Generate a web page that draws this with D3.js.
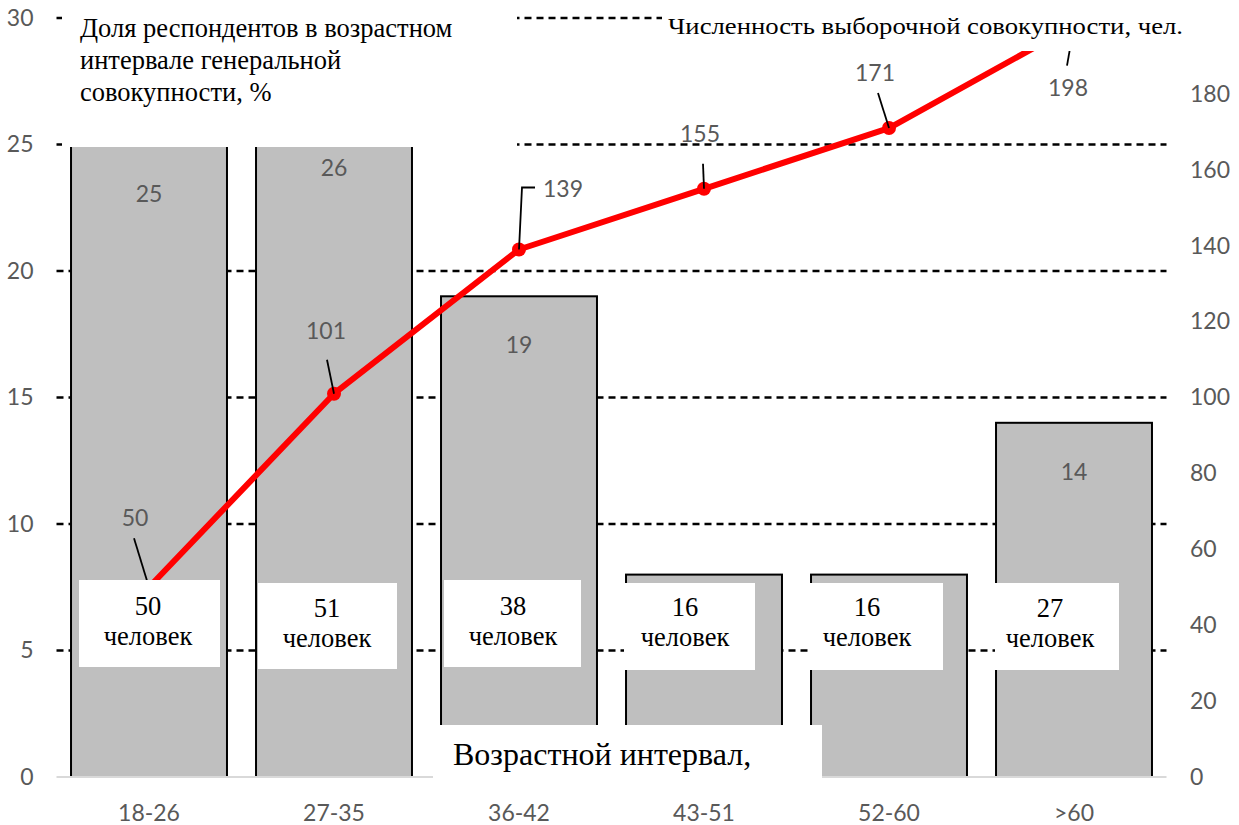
<!DOCTYPE html>
<html>
<head>
<meta charset="utf-8">
<script src="https://cdn.jsdelivr.net/npm/d3@7"></script>
<style>
  body { margin: 0; background: #fff; }
  svg { display: block; }
</style>
</head>
<body>
<svg id="chart" width="1239" height="825"></svg>
<script>
// Age groups and their values
const categories = ["18-26", "27-35", "36-42", "43-51", "52-60", ">60"];
const sharePct = [25, 26, 19, 8, 8, 14];            // share of the general population, %
const sampleCumulative = [50, 101, 139, 155, 171, 198]; // sample size, people (cumulative)
const groupCount = [50, 51, 38, 16, 16, 27];        // respondents in each group
const leftTicks = [0, 5, 10, 15, 20, 25, 30];
const rightTicks = [0, 20, 40, 60, 80, 100, 120, 140, 160, 180, 200];

const leftTitle = ["Доля респондентов в возрастном", "интервале генеральной", "совокупности, %"];
const rightTitle = "Численность выборочной совокупности, чел.";
const axisTitle = "Возрастной интервал,";
const unitWord = "человек";

// Label placement around each line point: label offset, leader start, optional elbow
const lineLabelLayout = [
  { dx: -14, dy: -69, anchor: "middle", lead: [[-15, -49]] },
  { dx: -8,  dy: -63, anchor: "middle", lead: [[-7, -34]] },
  { dx: 24,  dy: -61, anchor: "start",  lead: [[16, -62], [3, -62]] },
  { dx: -4,  dy: -55, anchor: "middle", lead: [[-1, -25]] },
  { dx: -14, dy: -55, anchor: "middle", lead: [[-11, -35]] },
  { dx: -6,  dy: 62,  anchor: "middle", lead: [[-7, 40]] }
];
// White caption boxes for the group counts
const countBoxes = [
  { x: 79,  y: 580, w: 141, h: 87, tx: 148, ty: 615 },
  { x: 258, y: 583, w: 139, h: 86, tx: 327, ty: 617 },
  { x: 444, y: 580, w: 137, h: 87, tx: 513, ty: 615 },
  { x: 624, y: 583, w: 131, h: 87, tx: 685, ty: 616 },
  { x: 809, y: 583, w: 134, h: 87, tx: 867, ty: 616 },
  { x: 995, y: 583, w: 124, h: 87, tx: 1050, ty: 617 }
];
const captionTop = 580;

const svg = d3.select("#chart");
const plot = { left: 56.5, right: 1166.5, top: 18, bottom: 777 };
const numFont = "Lato, 'Open Sans', sans-serif";
const serif = "'Liberation Serif', 'Times New Roman', serif";
const gray = "#595959";
const labelOffset = 49;

const x = d3.scaleBand().domain(categories)
  .range([plot.left, plot.right]).paddingInner(0.157).paddingOuter(0.0785);
const yL = d3.scaleLinear().domain([0, 30]).range([plot.bottom, plot.top]);
const yR = d3.scaleLinear().domain([0, 200]).range([plot.bottom, plot.top]);
const cx = c => x(c) + x.bandwidth() / 2;

// Dashed horizontal gridlines
svg.append("g")
  .selectAll("line").data(leftTicks.filter(d => d > 0)).join("line")
  .attr("x1", plot.left).attr("x2", plot.right)
  .attr("y1", d => yL(d)).attr("y2", d => yL(d))
  .attr("stroke", "#000").attr("stroke-width", 2.5)
  .attr("stroke-dasharray", "7,5");

// Bars
svg.append("g")
  .selectAll("rect").data(categories).join("rect")
  .attr("x", c => x(c)).attr("width", x.bandwidth())
  .attr("y", (c, i) => yL(sharePct[i]))
  .attr("height", (c, i) => yL(0) - yL(sharePct[i]))
  .attr("fill", "#bfbfbf").attr("stroke", "#000").attr("stroke-width", 2);

// Bar value labels (those that sit under the caption boxes stay hidden)
const barLabelIdx = categories.map((c, i) => i)
  .filter(i => yL(sharePct[i]) + labelOffset < captionTop - 10);
svg.append("g")
  .selectAll("text").data(barLabelIdx).join("text")
  .attr("x", i => cx(categories[i])).attr("y", i => yL(sharePct[i]) + labelOffset)
  .attr("dy", "0.35em").attr("text-anchor", "middle")
  .attr("font-family", numFont).attr("font-size", 23).attr("fill", gray)
  .text(i => sharePct[i]);

// Category axis baseline
svg.append("line")
  .attr("x1", plot.left).attr("x2", plot.right)
  .attr("y1", plot.bottom).attr("y2", plot.bottom)
  .attr("stroke", "#d9d9d9").attr("stroke-width", 2);

// Sample-size line with markers
const line = d3.line().x(c => cx(c)).y((c, i) => yR(sampleCumulative[i]));
svg.append("path").datum(categories)
  .attr("d", line).attr("fill", "none")
  .attr("stroke", "#ff0000").attr("stroke-width", 6)
  .attr("stroke-linejoin", "round");
svg.append("g")
  .selectAll("circle").data(categories).join("circle")
  .attr("cx", c => cx(c)).attr("cy", (c, i) => yR(sampleCumulative[i]))
  .attr("r", 7).attr("fill", "#ff0000");

// Leader lines and line value labels
const lbl = svg.append("g");
categories.forEach((c, i) => {
  const px = cx(c), py = yR(sampleCumulative[i]);
  const L = lineLabelLayout[i];
  const pts = L.lead.map(([dx, dy]) => [px + dx, py + dy]).concat([[px, py]]);
  lbl.append("path").attr("d", d3.line()(pts))
    .attr("fill", "none").attr("stroke", "#000").attr("stroke-width", 1.8);
  lbl.append("text")
    .attr("x", px + L.dx).attr("y", py + L.dy).attr("dy", "0.35em")
    .attr("text-anchor", L.anchor)
    .attr("font-family", numFont).attr("font-size", 23).attr("fill", gray)
    .text(sampleCumulative[i]);
});

// Group count caption boxes
const boxes = svg.append("g");
countBoxes.forEach((b, i) => {
  boxes.append("rect").attr("x", b.x).attr("y", b.y).attr("width", b.w).attr("height", b.h)
    .attr("fill", "#fff");
  const t = boxes.append("text").attr("text-anchor", "middle")
    .attr("font-family", serif).attr("font-size", 26.5).attr("fill", "#000");
  t.append("tspan").attr("x", b.tx).attr("y", b.ty).text(groupCount[i]);
  t.append("tspan").attr("x", b.tx).attr("y", b.ty + 30).text(unitWord);
});

// Axes: left (percent), right (people), bottom (age groups)
const styleAxis = g => {
  g.select(".domain").remove();
  g.selectAll(".tick line").remove();
  g.selectAll("text").attr("font-family", numFont).attr("font-size", 23).attr("fill", gray);
};
svg.append("g").attr("transform", `translate(${plot.left},0)`)
  .call(d3.axisLeft(yL).tickValues(leftTicks).tickSize(0).tickPadding(23))
  .call(styleAxis);
svg.append("g").attr("transform", `translate(${plot.right},0)`)
  .call(d3.axisRight(yR).tickValues(rightTicks).tickSize(0).tickPadding(23.5))
  .call(styleAxis);
svg.append("g").attr("transform", `translate(0,${plot.bottom})`)
  .call(d3.axisBottom(x).tickSize(0).tickPadding(28))
  .call(styleAxis);

// Title boxes
svg.append("rect").attr("x", 62).attr("y", 0).attr("width", 455).attr("height", 147).attr("fill", "#fff");
svg.append("text").attr("font-family", serif).attr("font-size", 26.5).attr("fill", "#000")
  .selectAll("tspan").data(leftTitle).join("tspan")
  .attr("x", 80).attr("y", (d, i) => 37 + i * 32).text(d => d);

svg.append("rect").attr("x", 662).attr("y", 0).attr("width", 577).attr("height", 51).attr("fill", "#fff");
svg.append("text").attr("x", 668).attr("y", 34)
  .attr("font-family", serif).attr("font-size", 23).attr("fill", "#000")
  .attr("textLength", 515).attr("lengthAdjust", "spacingAndGlyphs")
  .text(rightTitle);

svg.append("rect").attr("x", 433).attr("y", 725).attr("width", 389).attr("height", 53).attr("fill", "#fff");
svg.append("text").attr("x", 453).attr("y", 765)
  .attr("font-family", serif).attr("font-size", 32).attr("fill", "#000")
  .text(axisTitle);
</script>
</body>
</html>
